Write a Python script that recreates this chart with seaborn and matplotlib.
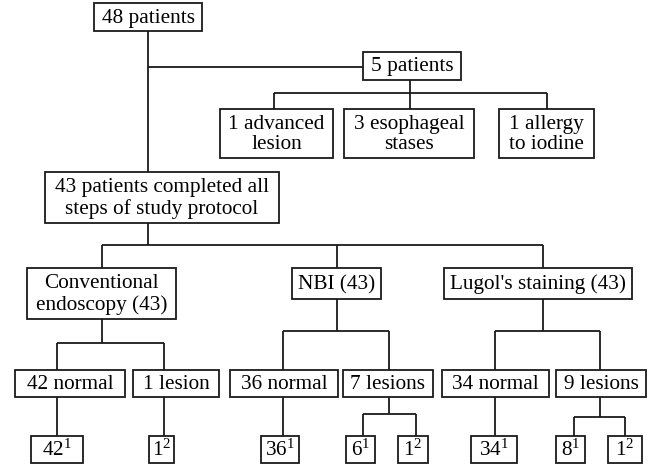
import matplotlib
matplotlib.use("Agg")
import matplotlib.pyplot as plt
import seaborn as sns
from matplotlib.patches import Rectangle

# counts shown in the flow chart
total_patients = 48
excluded_total = 5
excluded_reasons = ["advanced\nlesion", "esophageal\nstases", "allergy\nto iodine"]
excluded_counts = [1, 3, 1]
completed = 43
methods = ["Conventional\nendoscopy", "NBI", "Lugol's staining"]
method_n = [43, 43, 43]
normal_counts = [42, 36, 34]
lesion_counts = [1, 7, 9]
# final confirmation: (value, footnote) per lesion group
normal_final = [(42, 1), (36, 1), (34, 1)]
lesion_final = [[(1, 2)], [(6, 1), (1, 2)], [(8, 1), (1, 2)]]

sns.set_theme(style="white")
plt.rcParams["font.family"] = ["Liberation Serif", "DejaVu Serif"]
plt.rcParams["mathtext.fontset"] = "custom"
plt.rcParams["mathtext.rm"] = "Liberation Serif"
plt.rcParams["mathtext.it"] = "Liberation Serif:italic"

fig = plt.figure(figsize=(6.5, 4.65), dpi=100)
ax = fig.add_axes([0, 0, 1, 1])
ax.set_xlim(0, 650)
ax.set_ylim(465, 0)
ax.axis("off")

LC = "#1a1a1a"
FS = 15.3


def box(x0, x1, y0, y1, label):
    ax.add_patch(Rectangle((x0, y0), x1 - x0, y1 - y0, fill=False,
                           edgecolor=LC, linewidth=1.3))
    ax.text((x0 + x1) / 2, (y0 + y1) / 2 + 1, label, ha="center", va="center",
            fontsize=FS, color="black", linespacing=1.12)


def line(xs, ys):
    ax.plot(xs, ys, color=LC, linewidth=1.3, solid_capstyle="butt")


def sup(v, s):
    return f"{v}$^{{\\mathrm{{{s}}}}}$"


# top part
box(94, 202, 3, 31, f"{total_patients} patients")
line([148, 148], [31, 172])
line([148, 363], [67, 67])
box(363, 461, 52, 80, f"{excluded_total} patients")
line([410, 410], [80, 93])
line([274, 547], [93, 93])
sub_boxes = [(220, 333), (344, 474), (499, 594)]
sub_cx = [274, 410, 547]
for (x0, x1), cx, n, r in zip(sub_boxes, sub_cx, excluded_counts, excluded_reasons):
    line([cx, cx], [93, 109])
    first, second = r.split("\n")
    box(x0, x1, 109, 158, f"{n} {first}\n{second}")

box(45, 279, 172, 223, f"{completed} patients completed all\nsteps of study protocol")
line([148, 148], [223, 245])
line([102, 543], [245, 245])

# methods row
method_boxes = [(27, 176, 268, 319), (292, 381, 268, 299), (444, 632, 268, 299)]
method_cx = [102, 337, 543]
split_y = [343, 331, 331]
normal_boxes = [(15, 125), (230, 338), (442, 549)]
lesion_boxes = [(133, 219), (343, 433), (556, 646)]
normal_cx = [57, 283, 495]
lesion_cx = [164, 389, 600]
final_normal = [(31, 83), (261, 299), (471, 517)]
final_lesion = [[(149, 174)], [(346, 375), (398, 428)], [(556, 585), (608, 642)]]
final_split_y = [None, 414, 417]
final_split_x = [None, (363, 416), (574, 625)]

for i in range(3):
    x0, x1, y0, y1 = method_boxes[i]
    cx = method_cx[i]
    line([cx, cx], [245, y0])
    name = methods[i]
    box(x0, x1, y0, y1, f"{name} ({method_n[i]})")
    line([cx, cx], [y1, split_y[i]])
    line([normal_cx[i], lesion_cx[i]], [split_y[i], split_y[i]])
    line([normal_cx[i], normal_cx[i]], [split_y[i], 370])
    line([lesion_cx[i], lesion_cx[i]], [split_y[i], 370])
    box(*normal_boxes[i], 370, 397, f"{normal_counts[i]} normal")
    word = "lesion" if lesion_counts[i] == 1 else "lesions"
    box(*lesion_boxes[i], 370, 397, f"{lesion_counts[i]} {word}")

    # final row
    line([normal_cx[i], normal_cx[i]], [397, 436])
    box(*final_normal[i], 436, 463, sup(*normal_final[i]))
    if final_split_y[i] is None:
        line([lesion_cx[i], lesion_cx[i]], [397, 436])
    else:
        fy = final_split_y[i]
        fx0, fx1 = final_split_x[i]
        line([lesion_cx[i], lesion_cx[i]], [397, fy])
        line([fx0, fx1], [fy, fy])
        line([fx0, fx0], [fy, 436])
        line([fx1, fx1], [fy, 436])
    for (bx0, bx1), (v, s) in zip(final_lesion[i], lesion_final[i]):
        box(bx0, bx1, 436, 463, sup(v, s))

fig.savefig("out.png", dpi=100)
